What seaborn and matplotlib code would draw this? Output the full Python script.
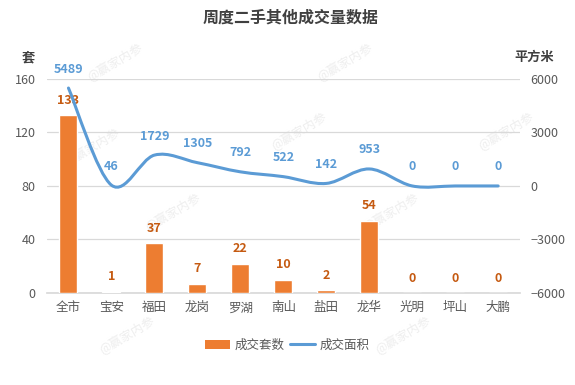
import numpy as np
import pandas as pd
import matplotlib
matplotlib.use("Agg")
import matplotlib.pyplot as plt
import seaborn as sns
from matplotlib.path import Path
from matplotlib.patches import PathPatch, Patch
from matplotlib.lines import Line2D

# data
districts = ["全市", "宝安", "福田", "龙岗", "罗湖", "南山", "盐田", "龙华", "光明", "坪山", "大鹏"]
units_sold = [133, 1, 37, 7, 22, 10, 2, 54, 0, 0, 0]
area_sold = [5489, 46, 1729, 1305, 792, 522, 142, 953, 0, 0, 0]

BAR_COLOR = "#ED7D31"
BAR_LABEL = "#C55A11"
LINE_COLOR = "#5B9BD5"
TEXT_COLOR = "#595959"
GRID_COLOR = "#D9D9D9"

sns.set_theme(style="white")
plt.rcParams["font.family"] = ["Noto Sans CJK SC", "DejaVu Sans"]

df = pd.DataFrame({"district": districts, "units": units_sold, "area": area_sold})

fig = plt.figure(figsize=(5.75, 3.85), dpi=100)
ax = fig.add_axes([0.0817, 0.239, 0.822, 0.556])

sns.barplot(data=df, x="district", y="units", color=BAR_COLOR, width=0.42,
            saturation=1, ax=ax, zorder=3)
ax.set_xlim(-0.5, len(districts) - 0.5)
ax.set_ylim(0, 160)
ax.set_yticks([0, 40, 80, 120, 160])
ax.set_xlabel("")
ax.set_ylabel("")
ax.grid(axis="y", color=GRID_COLOR, linewidth=0.9, zorder=0)
for s in ["top", "right", "left"]:
    ax.spines[s].set_visible(False)
ax.spines["bottom"].set_color(GRID_COLOR)
ax.tick_params(axis="both", length=0, labelsize=9, colors=TEXT_COLOR)
ax.tick_params(axis="y", pad=8)
ax.tick_params(axis="x", pad=6)
ax.patch.set_alpha(0)

for i, v in enumerate(units_sold):
    ax.annotate(str(v), (i, v), xytext=(0, 6), textcoords="offset points",
                ha="center", va="bottom", fontsize=9, fontweight="bold",
                color=BAR_LABEL, zorder=6)

# secondary axis for area, smooth line drawn as bezier path through the points
ax2 = ax.twinx()
ax2.set_ylim(-6000, 6000)
ax2.set_yticks([-6000, -3000, 0, 3000, 6000])
for s in ax2.spines.values():
    s.set_visible(False)
ax2.tick_params(axis="y", length=0, labelsize=9, colors=TEXT_COLOR, pad=8)
ax2.patch.set_alpha(0)

x = np.arange(len(area_sold), dtype=float)
y = np.array(area_sold, dtype=float)
verts = [(x[0], y[0])]
codes = [Path.MOVETO]
n = len(x)
for i in range(n - 1):
    p0 = np.array([x[max(i - 1, 0)], y[max(i - 1, 0)]])
    p1 = np.array([x[i], y[i]])
    p2 = np.array([x[i + 1], y[i + 1]])
    p3 = np.array([x[min(i + 2, n - 1)], y[min(i + 2, n - 1)]])
    c1 = p1 + (p2 - p0) / 6
    c2 = p2 - (p3 - p1) / 6
    verts += [tuple(c1), tuple(c2), tuple(p2)]
    codes += [Path.CURVE4] * 3
ax2.add_patch(PathPatch(Path(verts, codes), fill=False, edgecolor=LINE_COLOR,
                        linewidth=2.2, capstyle="round", zorder=4))

for i, v in enumerate(area_sold):
    ax2.annotate(str(v), (i, v), xytext=(0, 9), textcoords="offset points",
                 ha="center", va="bottom", fontsize=9, fontweight="bold",
                 color=LINE_COLOR, zorder=6)

# titles and units
fig.text(0.505, 0.955, "周度二手其他成交量数据", ha="center", va="center",
         fontsize=11.5, fontweight="bold", color="#404040")
fig.text(0.049, 0.852, "套", ha="center", va="center", fontsize=9.5,
         fontweight="bold", color="#404040")
fig.text(0.93, 0.852, "平方米", ha="center", va="center", fontsize=9.5,
         fontweight="bold", color="#404040")

# faint watermarks behind the axes
for wx, wy in [(0.2, 0.84), (0.6, 0.84), (0.16, 0.62), (0.52, 0.66), (0.88, 0.66),
               (0.3, 0.45), (0.68, 0.45), (0.22, 0.13), (0.7, 0.13)]:
    fig.text(wx, wy, "@赢家内参", ha="center", va="center", fontsize=9,
             rotation=30, color="#EEEEEE", zorder=-1)

handles = [Patch(facecolor=BAR_COLOR, edgecolor="none"),
           Line2D([0], [0], color=LINE_COLOR, linewidth=2.2)]
fig.legend(handles, ["成交套数", "成交面积"], loc="center", ncol=2,
           bbox_to_anchor=(0.5, 0.103), frameon=False, fontsize=9,
           handlelength=2.0, handleheight=0.7, columnspacing=0.4,
           handletextpad=0.4, labelcolor=TEXT_COLOR)

fig.savefig("out.png", dpi=100)
